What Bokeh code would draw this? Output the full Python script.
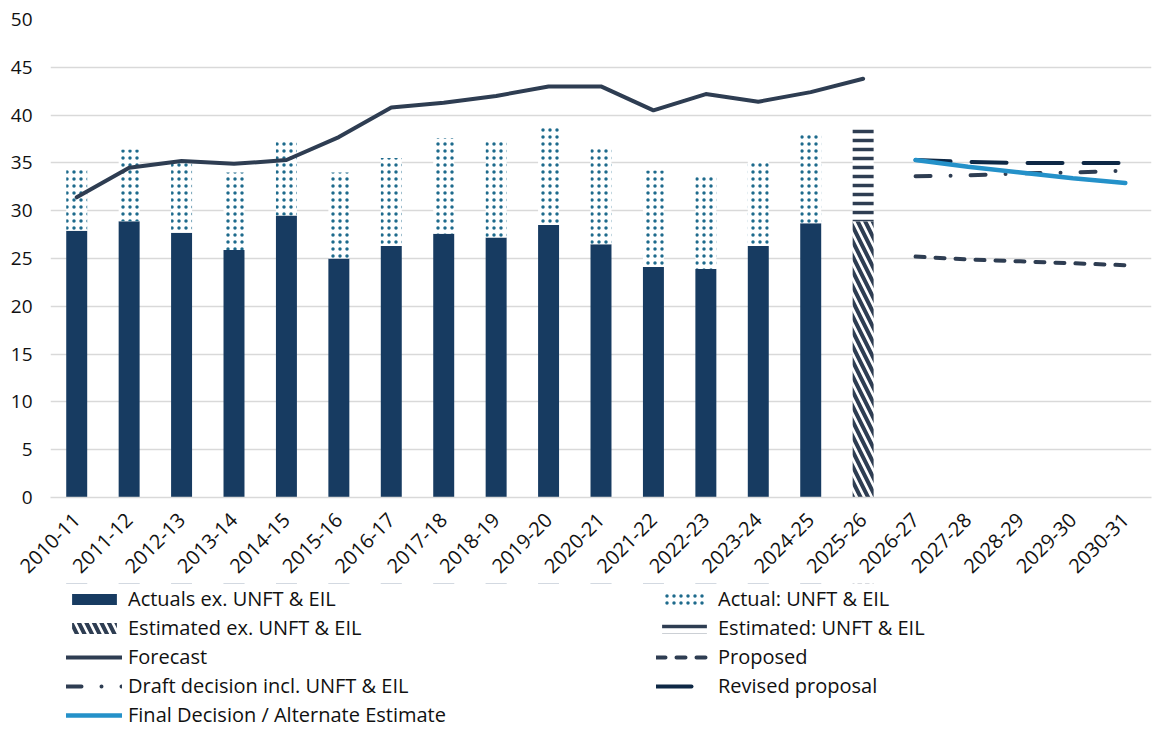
import math
from bokeh.plotting import figure
from bokeh.layouts import column
from bokeh.models import FactorRange, Range1d, Legend, LegendItem, FixedTicker
from bokeh.embed import file_html
from bokeh.resources import INLINE

# ---- data ----
years = ["2010-11", "2011-12", "2012-13", "2013-14", "2014-15", "2015-16",
         "2016-17", "2017-18", "2018-19", "2019-20", "2020-21", "2021-22",
         "2022-23", "2023-24", "2024-25", "2025-26", "2026-27", "2027-28",
         "2028-29", "2029-30", "2030-31"]

actual_years = years[:15]
actuals_ex = [27.9, 28.9, 27.7, 25.9, 29.5, 25.0, 26.3, 27.6, 27.2, 28.5,
              26.5, 24.1, 23.9, 26.3, 28.7]
actual_unft = [6.5, 7.5, 7.3, 8.1, 7.8, 9.0, 9.2, 10.0, 10.1, 10.2,
               10.2, 10.1, 9.7, 8.9, 9.4]

est_years = ["2025-26"]
est_ex = [28.9]
est_unft = [9.8]

forecast_years = years[:16]
forecast = [31.4, 34.5, 35.2, 34.9, 35.3, 37.7, 40.8, 41.3, 42.0, 43.0,
            43.0, 40.5, 42.2, 41.4, 42.4, 43.8]

period_years = years[16:]
proposed = [25.2, 24.9, 24.7, 24.5, 24.3]
draft = [33.6, 33.7, 33.9, 34.0, 34.2]
revised = [35.3, 35.1, 35.0, 35.0, 35.0]
final = [35.3, 34.6, 34.0, 33.4, 32.9]

y_ticks = [0, 5, 10, 15, 20, 25, 30, 35, 40, 45, 50]

legend_labels = ["Actuals ex. UNFT & EIL", "Actual: UNFT & EIL",
                 "Estimated ex. UNFT & EIL", "Estimated: UNFT & EIL",
                 "Forecast", "Proposed",
                 "Draft decision incl. UNFT & EIL", "Revised proposal",
                 "Final Decision / Alternate Estimate"]

# ---- style ----
FONT = "Open Sans"
NAVY = "#173B61"
DOT = "#1D6A8C"
SLATE = "#2E3D52"
DARK = "#0E2845"
LIGHT = "#2491C9"
GRID = "#D9D9D9"
TXT = "#111111"

bar_styles = [
    dict(fill_color=NAVY, line_color=None),
    dict(fill_color="white", line_color=None, hatch_pattern="dot",
         hatch_color=DOT, hatch_scale=7, hatch_weight=6),
    dict(fill_color="white", line_color=None, hatch_pattern="left_diagonal_line",
         hatch_color=SLATE, hatch_scale=15, hatch_weight=4),
    dict(fill_color="white", line_color=None, hatch_pattern="horizontal_line",
         hatch_color=SLATE, hatch_scale=9, hatch_weight=3.5),
]
line_styles = [
    dict(line_color=SLATE, line_width=4, line_join="round", line_cap="round"),
    dict(line_color=SLATE, line_width=4, line_dash="9 11", line_cap="round"),
    dict(line_color=SLATE, line_width=4, line_dash="15 20 0 20", line_cap="round"),
    dict(line_color=DARK, line_width=4, line_dash="35 21", line_cap="round"),
    dict(line_color=LIGHT, line_width=4.5, line_cap="round"),
]


def draw(fig):
    tops = [a + b for a, b in zip(actuals_ex, actual_unft)]
    etops = [a + b for a, b in zip(est_ex, est_unft)]
    rs = [
        fig.vbar(x=actual_years, bottom=0, top=actuals_ex, width=0.4, **bar_styles[0]),
        fig.vbar(x=actual_years, bottom=actuals_ex, top=tops, width=0.4, **bar_styles[1]),
        fig.vbar(x=est_years, bottom=0, top=est_ex, width=0.4, **bar_styles[2]),
        fig.vbar(x=est_years, bottom=est_ex, top=etops, width=0.4, **bar_styles[3]),
        fig.line(x=forecast_years, y=forecast, **line_styles[0]),
        fig.line(x=period_years, y=proposed, **line_styles[1]),
        fig.line(x=period_years, y=draft, **line_styles[2]),
        fig.line(x=period_years, y=revised, **line_styles[3]),
        fig.line(x=period_years, y=final, **line_styles[4]),
    ]
    return rs


p = figure(x_range=FactorRange(*years), y_range=Range1d(0, 50),
           width=1153, height=583,
           output_backend="svg", toolbar_location=None,
           min_border_left=50, min_border_right=2, min_border_top=19,
           min_border_bottom=86)
p.outline_line_color = None
p.background_fill_color = "white"
draw(p)

# axes
p.yaxis.ticker = FixedTicker(ticks=y_ticks)
p.yaxis.axis_line_color = None
p.yaxis.major_tick_line_color = None
p.yaxis.minor_tick_line_color = None
p.yaxis.major_label_text_font = FONT
p.yaxis.major_label_text_font_size = "19px"
p.yaxis.major_label_text_color = TXT
p.yaxis.major_label_standoff = 12

p.xaxis.axis_line_color = GRID
p.xaxis.axis_line_width = 1.5
p.xaxis.major_tick_line_color = None
p.xaxis.minor_tick_line_color = None
p.xaxis.major_label_orientation = math.pi / 4
p.xaxis.major_label_text_font = FONT
p.xaxis.major_label_text_font_size = "20px"
p.xaxis.major_label_text_color = TXT
p.xaxis.major_label_standoff = 13

p.xgrid.grid_line_color = None
p.ygrid.grid_line_color = GRID
p.ygrid.grid_line_width = 1.5

# ---- legend panel: same series drawn out of view, only the legend shows ----
q = figure(x_range=FactorRange(*years), y_range=Range1d(-100, -90),
           width=1153, height=146, output_backend="svg", toolbar_location=None,
           x_axis_type=None, y_axis_type=None,
           min_border_left=50, min_border_right=2, min_border_top=0,
           min_border_bottom=0)
q.outline_line_color = None
q.xgrid.grid_line_color = None
q.ygrid.grid_line_color = None
lr = draw(q)

legend = Legend(items=[LegendItem(label=lab, renderers=[r])
                       for lab, r in zip(legend_labels, lr)],
                orientation="horizontal", ncols=2)
legend.location = (16, 0)
legend.border_line_color = None
legend.background_fill_alpha = 0
legend.label_text_font = FONT
legend.label_text_font_size = "20px"
legend.label_text_color = TXT
legend.glyph_width = 56
legend.glyph_height = 14
legend.label_standoff = 6
legend.label_width = 528
legend.label_height = 29
legend.spacing = 0
legend.padding = 0
legend.margin = 0
legend.click_policy = "none"
q.add_layout(legend, "center")

layout = column(p, q, spacing=0)
open("out.html", "w").write(file_html(layout, INLINE))
